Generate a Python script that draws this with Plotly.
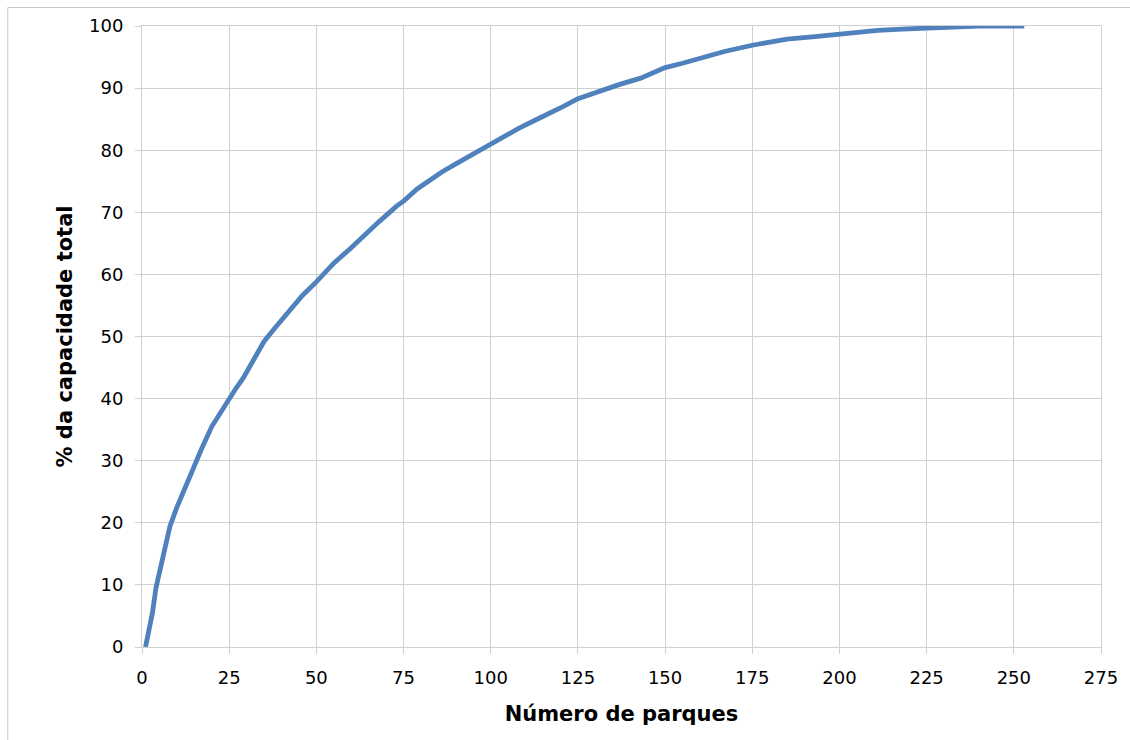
import plotly.graph_objects as go

parks = [1, 2, 3, 4, 6, 8, 10, 12, 14, 17, 20, 23, 25, 27, 29, 32, 35, 38, 42, 46, 50,
         55, 60, 64, 68, 73, 75, 79, 82, 86, 90, 95, 100, 104, 108, 113, 118, 121, 125,
         130, 134, 137, 143, 146, 150, 155, 160, 167, 175, 180, 185, 193, 200, 205, 211,
         218, 225, 230, 235, 240, 245, 253]
pct = [0, 2.5, 5.5, 9.5, 14.5, 19.4, 22.5, 25.3, 28.0, 31.8, 35.5, 38.2, 40.1, 41.7,
       43.3, 46.3, 49.2, 51.3, 54.0, 56.6, 58.8, 61.8, 64.3, 66.5, 68.5, 71.0, 71.8,
       73.8, 75.0, 76.5, 77.8, 79.4, 80.8, 82.2, 83.5, 84.9, 86.2, 87.1, 88.3, 89.3,
       90.0, 90.6, 91.6, 92.3, 93.3, 94.0, 94.8, 95.9, 96.9, 97.4, 97.9, 98.3, 98.7,
       99.0, 99.3, 99.5, 99.7, 99.8, 99.9, 100, 100, 100]

x_ticks = list(range(0, 276, 25))
y_ticks = list(range(0, 101, 10))

font_family = "DejaVu Sans, Verdana, sans-serif"
grid_col = "#D0D0D0"

# plot area at page px 142..1103 x 26..647 (body margin removed below)
W, H = 1130, 740
L, R, T, B = 142, 27, 26, 93
pw, ph = W - L - R, H - T - B

fig = go.Figure()
fig.add_trace(go.Scatter(x=parks, y=pct, mode="lines",
                         line=dict(color="#4F81BD", width=4.8),
                         showlegend=False, hoverinfo="skip"))

fig.update_layout(
    width=W, height=H,
    margin=dict(l=L, r=R, t=T, b=B),
    paper_bgcolor="white", plot_bgcolor="white",
    font=dict(family=font_family, size=18, color="black"),
    xaxis=dict(range=[0, 275], tickvals=x_ticks, showgrid=True, gridcolor=grid_col,
               gridwidth=1, showline=True, linecolor=grid_col, linewidth=1, mirror=True,
               ticks="outside", ticklen=6, tickcolor=grid_col, zeroline=False,
               ticklabelstandoff=8,
               title=dict(text="<b>Número de parques</b>", font=dict(size=21), standoff=19)),
    yaxis=dict(range=[0, 100], tickvals=y_ticks, showgrid=True, gridcolor=grid_col,
               gridwidth=1, showline=True, linecolor=grid_col, linewidth=1, mirror=True,
               ticks="outside", ticklen=6, tickcolor=grid_col, zeroline=False,
               ticklabelstandoff=8,
               title=dict(text="<b>% da capacidade total</b>", font=dict(size=21), standoff=10)),
    shapes=[dict(type="rect", xref="paper", yref="paper",
                 x0=(7.5 - L) / pw, x1=(W + 20 - L) / pw,
                 y0=-(B + 20) / ph, y1=(ph + T - 7.5) / ph,
                 line=dict(color="#C8C8C8", width=1), fillcolor="rgba(0,0,0,0)", layer="below")],
)

fig.write_html(
    "out.html",
    config={"displayModeBar": False, "staticPlot": True},
    post_script="document.body.style.margin='0';document.body.style.overflow='hidden';",
)
